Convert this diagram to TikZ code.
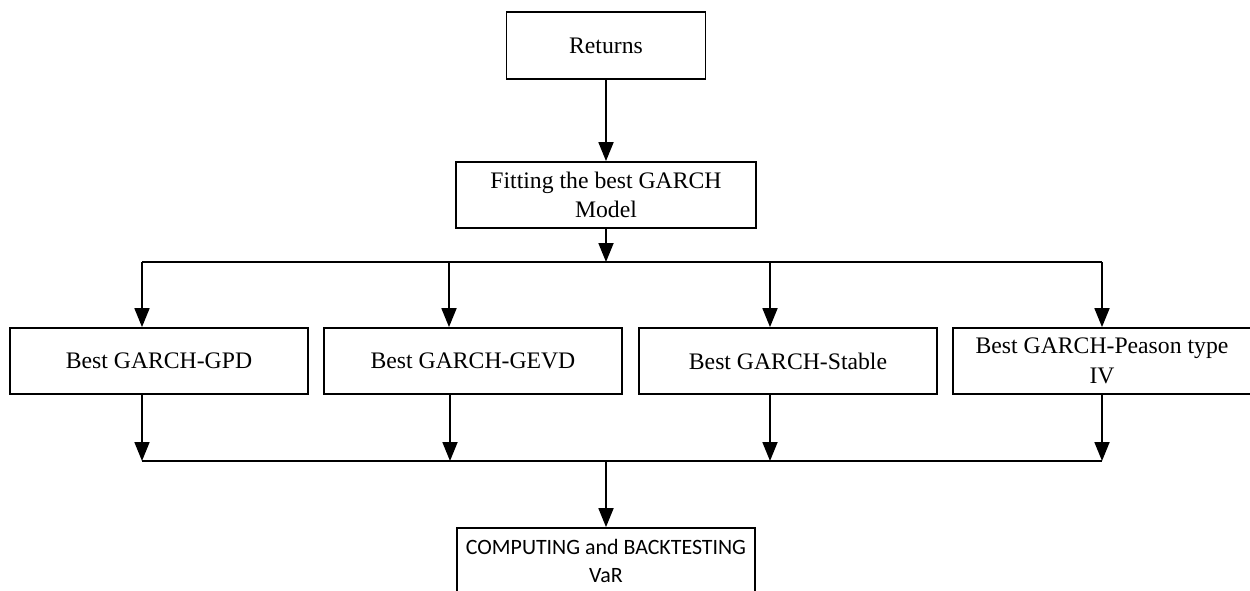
\documentclass[tikz,border=0pt]{standalone}
\usepackage{fontspec}
\setmainfont{Liberation Serif}
\newfontfamily\calib{Carlito}
\usetikzlibrary{arrows.meta}
\tikzset{
  box/.style={draw, line width=1.8pt, minimum width=298pt, minimum height=66pt,
    inner sep=0pt, align=center, font=\fontsize{23.7}{29.5}\selectfont},
  arr/.style={line width=1.8pt, -{Triangle[length=19pt,width=15pt]}},
  wire/.style={line width=1.8pt}
}
\begin{document}
\begin{tikzpicture}[x=1pt,y=-1pt]
\useasboundingbox (0,0) rectangle (1250,590);

% top of the chain
\node[box, minimum width=199pt, minimum height=67pt] (ret) at (606,45.5) {Returns};
\node[box, minimum width=300pt] (fit) at (606,195) {Fitting the best GARCH\\Model};

% branching and merging rails
\coordinate (br) at (606,262);
\coordinate (b1) at (142,262);
\coordinate (b2) at (449,262);
\coordinate (b3) at (770,262);
\coordinate (b4) at (1102,262);
\coordinate (mg) at (606,461);
\coordinate (m1) at (142,461);
\coordinate (m2) at (450,461);
\coordinate (m3) at (770,461);
\coordinate (m4) at (1102,461);

% the four fitted models
\node[box] (gpd)  at (159,361)  {Best GARCH-GPD};
\node[box] (gevd) at (473,361)  {Best GARCH-GEVD};
\node[box] (stb)  at (788,361)  {Best GARCH-Stable};
\node[box] (pea)  at (1102,361) {Best GARCH-Peason type\\IV};

% final step
\node[box, font=\calib\fontsize{21.9}{28}\selectfont] (comp) at (606,561)
  {COMPUTING and BACKTESTING\\VaR};

\draw[arr] (ret) -- (fit);
\draw[arr] (fit) -- (br);
\draw[wire] (b1) -- (b4);
\draw[arr] (b1) -- (b1 |- gpd.north);
\draw[arr] (b2) -- (b2 |- gevd.north);
\draw[arr] (b3) -- (b3 |- stb.north);
\draw[arr] (b4) -- (b4 |- pea.north);

\draw[arr] (m1 |- gpd.south) -- (m1);
\draw[arr] (m2 |- gevd.south) -- (m2);
\draw[arr] (m3 |- stb.south) -- (m3);
\draw[arr] (m4 |- pea.south) -- (m4);
\draw[wire] (m1) -- (m4);
\draw[arr] (mg) -- (comp);
\end{tikzpicture}
\end{document}
